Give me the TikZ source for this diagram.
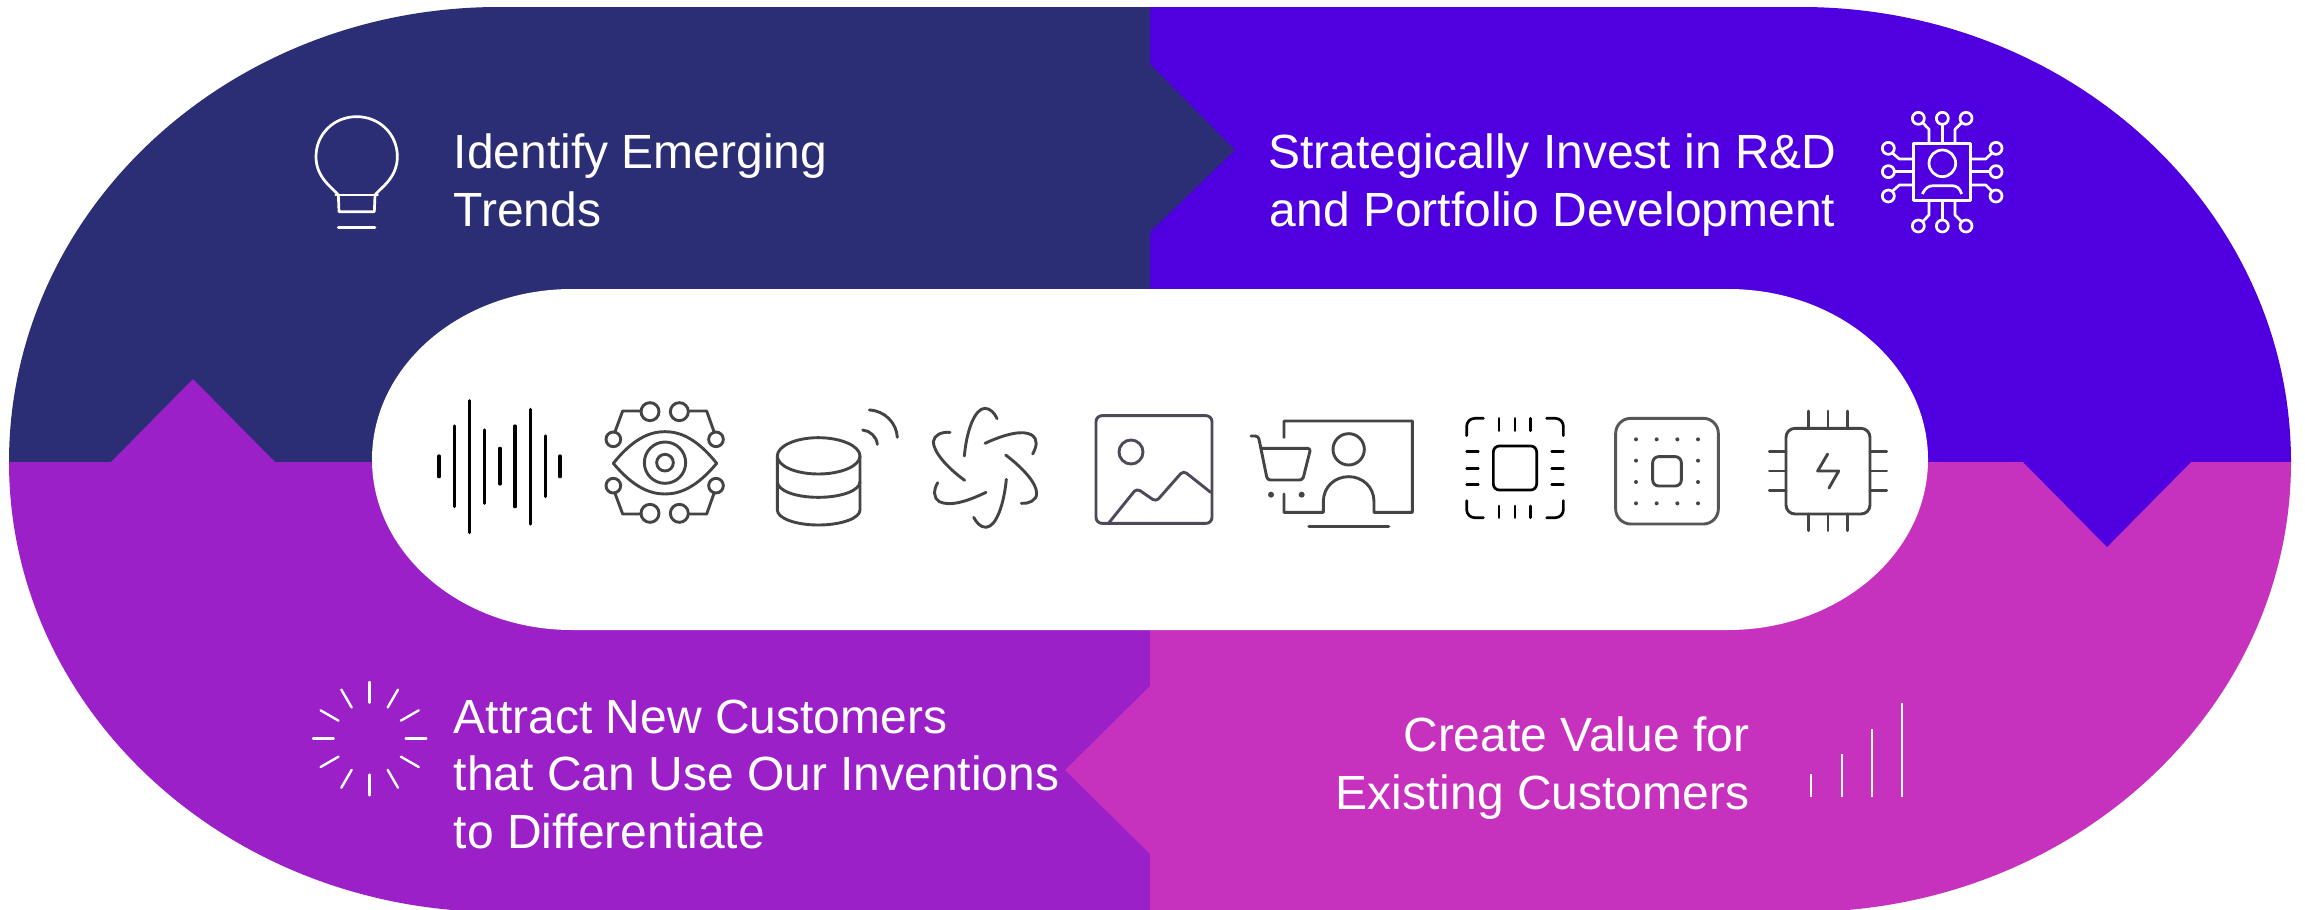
\documentclass[tikz,border=0pt]{standalone}
\usepackage{fontspec}
\setmainfont{Liberation Sans}
\definecolor{cdark}{HTML}{2B2D75}
\definecolor{cviolet}{HTML}{5000E0}
\definecolor{cpurple}{HTML}{9B20C8}
\definecolor{cmagenta}{HTML}{C631BE}
\definecolor{icongray}{HTML}{444444}
\definecolor{imggray}{HTML}{4E4858}
\tikzset{
  blocktext/.style={text=white,inner sep=0pt,font=\fontsize{48}{57.5}\selectfont},
  gl/.style={draw=icongray,line width=2.9pt,line cap=round,line join=round},
  wl/.style={draw=white,line width=2.7pt,line cap=round,line join=round},
  bl/.style={draw=black,line width=2.7pt,line cap=round,line join=round},
  crop/.style={shift={#1},scale=0.33333},
}
\begin{document}
\begin{tikzpicture}[x=1pt,y=-1pt]
\useasboundingbox (0,0) rectangle (2305,910);
\fill[white] (0,0) rectangle (2305,910);
% band
\begin{scope}
\clip (0,0) rectangle (2305,910);
\clip (499,7) .. controls (228.4,7) and (9,210.7) .. (9,462) .. controls (9,710.5) and (228.4,912) .. (499,912) -- (1801,912) .. controls (2071.6,912) and (2291,710.5) .. (2291,462) .. controls (2291,210.7) and (2071.6,7) .. (1801,7) -- cycle;
\fill[cdark] (0,0) rectangle (1150,462);
\fill[cviolet] (1150,0) rectangle (2305,462);
\fill[cpurple] (0,462) rectangle (1150,910);
\fill[cmagenta] (1150,462) rectangle (2305,910);
\fill[cdark] (1149,63) -- (1235,150) -- (1149,233) -- cycle;
\fill[cpurple] (110,463) -- (193,379) -- (276,463) -- cycle;
\fill[cviolet] (2022,461) -- (2107,547) -- (2192,461) -- cycle;
\fill[cmagenta] (1151,685) -- (1065,770) -- (1151,855) -- cycle;
\end{scope}
\fill[white] (572,289) .. controls (461.5,289) and (372,365.3) .. (372,459.5) .. controls (372,553.7) and (461.5,630) .. (572,630) -- (1728,630) .. controls (1838.5,630) and (1928,553.7) .. (1928,459.5) .. controls (1928,365.3) and (1838.5,289) .. (1728,289) -- cycle;
% texts
\node[blocktext,anchor=base west,align=left] (identify) at (453.5,226) {Identify Emerging\\Trends};
\node[blocktext,anchor=base,align=center] (invest) at (1552.5,226) {Strategically Invest in R\&D\\and Portfolio Development};
\node[blocktext,anchor=base west,align=left] (attract) at (453.5,848) {Attract New Customers\\that Can Use Our Inventions\\to Differentiate};
\node[blocktext,anchor=base east,align=right] (create) at (1749.5,809) {Create Value for\\Existing Customers};
% bulb
\begin{scope}[crop={(290,90)}]
\draw[wl] (145,315) .. controls (130,295) and (78,265) .. (78,200) .. controls (78,132) and (132,80) .. (200,80) .. controls (268,80) and (322,132) .. (322,200) .. controls (322,265) and (270,295) .. (255,315);
\draw[wl] (137,315) -- (263,315);
\draw[wl] (145,315) -- (147,365) -- (253,365) -- (255,315);
\draw[wl] (145,413) -- (255,413);
\end{scope}
% burst
\begin{scope}[crop={(290,660)}]
\foreach \a in {0,30,...,330}{
  \draw[wl,line width=2.4pt] ({239+108*cos(\a)},{236+108*sin(\a)}) -- ({239+170*cos(\a)},{236+170*sin(\a)});
}
\end{scope}
% bars
\foreach \x/\t in {1811/774,1842/754,1872/729,1902/703}{
  \draw[white,line width=2pt] (\x,797) -- (\x,\t);
}
% person chip
\begin{scope}[crop={(1860,90)},wl/.append style={line cap=butt}]
\draw[wl] (160,160) rectangle (332,332);
\draw[wl] (247,220) circle (40);
\draw[wl] (187,312) .. controls (195,295) and (205,287) .. (220,287) -- (275,287) .. controls (290,287) and (300,295) .. (305,312);
\foreach \p in {175,247,318}{\draw[wl] (\p,85) circle (18); \draw[wl] (\p,408) circle (18);}
\foreach \p in {175,245,318}{\draw[wl] (85,\p) circle (18); \draw[wl] (408,\p) circle (18);}
\draw[wl] (247,103) -- (247,160);
\draw[wl] (188,98) -- (207,118) -- (207,160);
\draw[wl] (305,98) -- (285,118) -- (285,160);
\draw[wl] (247,332) -- (247,390);
\draw[wl] (207,332) -- (207,375) -- (188,395);
\draw[wl] (285,332) -- (285,375) -- (305,395);
\draw[wl] (160,245) -- (103,245);
\draw[wl] (160,207) -- (118,207) -- (98,190);
\draw[wl] (160,285) -- (118,285) -- (98,303);
\draw[wl] (332,245) -- (390,245);
\draw[wl] (332,207) -- (377,207) -- (395,190);
\draw[wl] (332,285) -- (377,285) -- (395,303);
\end{scope}
% wave, eye, database
\begin{scope}[crop={(420,380)}]
\foreach \x/\a/\b in {57/228/290,103/138/380,148/62/458,194/150/370,240/205/312,285/138/380,331/88/432,377/168/350,420/228/290}{
  \draw[bl,line width=3.2pt] (\x,\a) -- (\x,\b);
}
\draw[gl] (580,250) .. controls (640,175) and (690,155) .. (735,155) .. controls (780,155) and (830,175) .. (890,250) .. controls (830,322) and (780,342) .. (735,342) .. controls (690,342) and (640,322) .. (580,250) -- cycle;
\draw[gl] (735,248) circle (62);
\draw[gl] (735,248) circle (25);
\foreach \x/\y/\r in {690/95/27,778/95/27,580/178/22,888/178/22,580/317/22,888/317/22,690/400/27,778/400/27}{
  \draw[gl] (\x,\y) circle (\r);
}
\draw[gl] (663,93) -- (608,93) -- (585,155);
\draw[gl] (805,93) -- (860,93) -- (882,155);
\draw[gl] (585,340) -- (608,402) -- (663,402);
\draw[gl] (882,340) -- (860,402) -- (805,402);
\draw[gl] (1195,173) .. controls (1127,173) and (1072,198) .. (1072,228) .. controls (1072,258) and (1127,282) .. (1195,282) .. controls (1263,282) and (1320,258) .. (1320,228) .. controls (1320,198) and (1263,173) .. (1195,173) -- cycle;
\draw[gl] (1072,228) -- (1072,390) .. controls (1072,415) and (1127,435) .. (1195,435) .. controls (1263,435) and (1320,415) .. (1320,390) -- (1320,228);
\draw[gl] (1072,305) .. controls (1072,332) and (1127,352) .. (1195,352) .. controls (1263,352) and (1320,332) .. (1320,305);
\draw[gl] (1348,90) .. controls (1395,92) and (1430,130) .. (1432,172);
\draw[gl] (1328,150) .. controls (1350,152) and (1370,170) .. (1372,193);
\end{scope}
% swirl, picture
\begin{scope}[crop={(900,380)}]
\draw[gl] (193,228) .. controls (200,150) and (225,85) .. (255,85) .. controls (270,85) and (285,100) .. (291,116);
\draw[gl] (255,190) .. controls (320,160) and (370,150) .. (395,165) .. controls (415,178) and (410,200) .. (398,222);
\draw[gl] (317,225) .. controls (370,265) and (410,310) .. (410,340) .. controls (410,362) and (385,372) .. (364,370);
\draw[gl] (319,298) .. controls (312,370) and (290,440) .. (258,442) .. controls (240,442) and (228,425) .. (221,412);
\draw[gl] (258,337) .. controls (200,365) and (150,380) .. (118,365) .. controls (100,355) and (100,330) .. (113,308);
\draw[gl] (194,301) .. controls (140,262) and (100,215) .. (100,185) .. controls (102,165) and (125,155) .. (150,157);
\draw[gl,draw=imggray,rounded corners=6pt] (588,107) rectangle (936,430);
\draw[gl,draw=imggray] (693,216) circle (36);
\draw[gl,draw=imggray,rounded corners=4pt] (627,428) -- (710,325) -- (768,365) -- (850,272) -- (932,337);
\end{scope}
% cart and person
\begin{scope}[crop={(1240,400)}]
\draw[gl] (132,112) -- (132,63) -- (517,63) -- (517,337) -- (402,337) -- (402,305) .. controls (402,260) and (367,230) .. (326,230) .. controls (285,230) and (250,260) .. (250,305) -- (250,337) -- (132,337) -- (132,282);
\draw[gl] (326,148) circle (47);
\draw[gl,line width=3.2pt] (207,379) -- (446,379);
\draw[gl,rounded corners=3pt] (33,108) -- (55,108) -- (82,240) -- (188,240) -- (212,145) -- (62,145);
\fill[icongray] (93,284) circle (9);
\fill[icongray] (185,284) circle (9);
\end{scope}
% chips
\begin{scope}[crop={(1420,380)}]
\draw[bl,rounded corners=6pt] (220,198) rectangle (350,330);
\draw[bl,rounded corners=8pt] (140,167) -- (140,115) -- (190,115);
\draw[bl,rounded corners=8pt] (380,115) -- (430,115) -- (430,167);
\draw[bl,rounded corners=8pt] (140,362) -- (140,413) -- (190,413);
\draw[bl,rounded corners=8pt] (430,362) -- (430,413) -- (380,413);
\foreach \p in {237,285,332}{\draw[bl] (\p,115) -- (\p,152); \draw[bl] (\p,378) -- (\p,413);}
\foreach \p in {215,265,314}{\draw[bl] (140,\p) -- (175,\p); \draw[bl] (395,\p) -- (430,\p);}
\draw[gl,draw=icongray!90,rounded corners=15pt] (587,115) rectangle (895,432);
\draw[gl,rounded corners=6pt] (698,230) rectangle (784,318);
\foreach \x in {648,710,772,834}{\fill[icongray] (\x,178) circle (6); \fill[icongray] (\x,370) circle (6);}
\foreach \x in {648,834}{\fill[icongray] (\x,242) circle (6); \fill[icongray] (\x,306) circle (6);}
\draw[gl,rounded corners=9pt] (1098,145) rectangle (1350,402);
\foreach \p in {1166,1224,1282}{\draw[gl] (\p,93) -- (\p,145); \draw[gl] (\p,402) -- (\p,452);}
\foreach \p in {214,273,332}{\draw[gl] (1048,\p) -- (1098,\p); \draw[gl] (1350,\p) -- (1400,\p);}
\draw[gl] (1223,222) -- (1193,273) -- (1256,273) -- (1227,324);
\end{scope}
\end{tikzpicture}
\end{document}
